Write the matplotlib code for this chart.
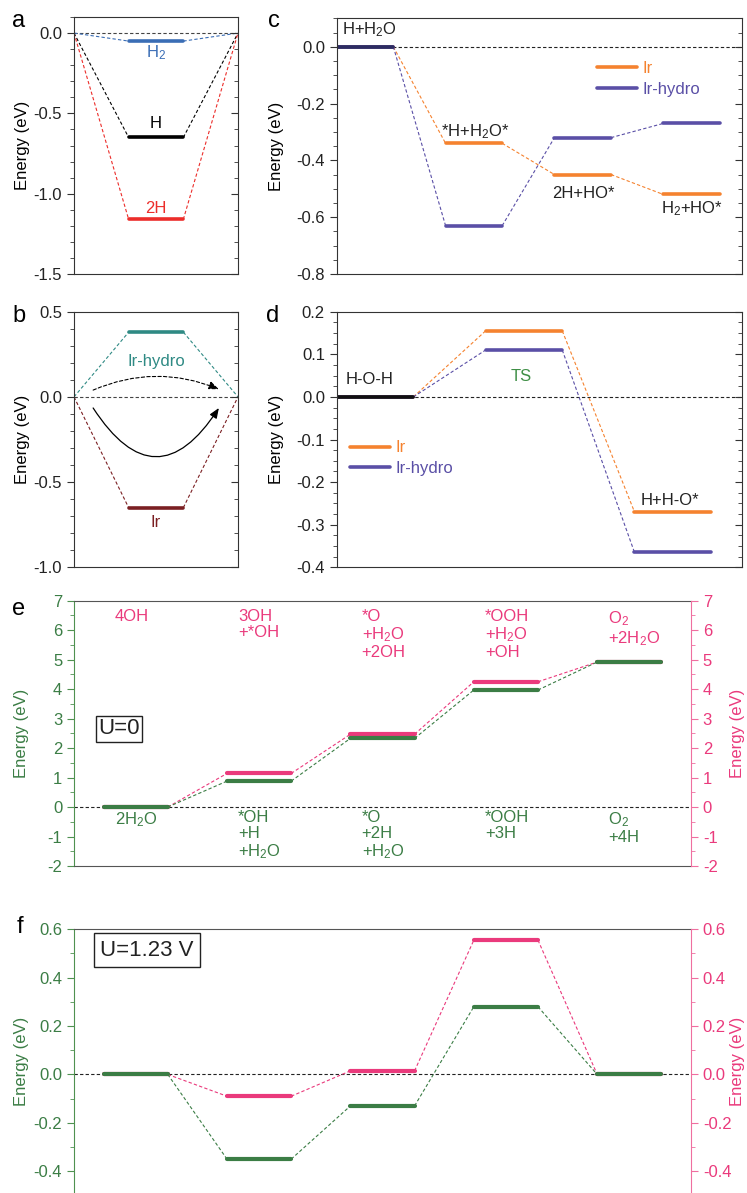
import matplotlib
matplotlib.use("Agg")
import matplotlib.pyplot as plt
from matplotlib.ticker import MultipleLocator

plt.rcParams['font.family'] = ['Liberation Sans', 'DejaVu Sans']
plt.rcParams['mathtext.fontset'] = 'custom'
plt.rcParams['mathtext.rm'] = 'Liberation Sans'
plt.rcParams['mathtext.it'] = 'Liberation Sans:italic'
plt.rcParams['font.size'] = 12
plt.rcParams['axes.unicode_minus'] = False

# ---- data ----
# a: adsorption energies
a_labels = ['H$_2$', 'H', '2H']
a_energy = [-0.05, -0.65, -1.16]
# b: Ir-hydro vs Ir
b_labels = ['Ir-hydro', 'Ir']
b_energy = [0.38, -0.65]
# c: water dissociation path
c_states = ['H+H$_2$O', '*H+H$_2$O*', '2H+HO*', 'H$_2$+HO*']
c_ir = [0.0, -0.34, -0.45, -0.52]
c_hydro = [0.0, -0.63, -0.32, -0.27]
# d: transition state
d_states = ['H-O-H', 'TS', 'H+H-O*']
d_ir = [0.0, 0.155, -0.27]
d_hydro = [0.0, 0.11, -0.365]
# e/f: OER steps
e_top = ['4OH', '3OH\n+*OH', '*O\n+H$_2$O\n+2OH', '*OOH\n+H$_2$O\n+OH', 'O$_2$\n+2H$_2$O']
e_bottom = ['2H$_2$O', '*OH\n+H\n+H$_2$O', '*O\n+2H\n+H$_2$O', '*OOH\n+3H', 'O$_2$\n+4H']
e_green = [0.0, 0.88, 2.33, 3.97, 4.92]
e_pink = [0.0, 1.14, 2.47, 4.25, 4.92]
f_green = [0.0, -0.35, -0.13, 0.28, 0.0]
f_pink = [0.0, -0.09, 0.015, 0.555, 0.0]

# colours
BLUE = '#3a6db5'
RED = '#ec2d2a'
TEAL = '#2f8a84'
DARKRED = '#7b1f22'
ORANGE = '#f5822f'
PURPLE = '#5a4fa6'
NAVY = '#2c2c62'
TSGREEN = '#3f8f46'
GREEN = '#3b7d45'
GREEN_AX = '#4f9150'
PINK = '#ea3a7c'
PINK_AX = '#ef6fa0'
SPINE = '#333333'

W, H = 747, 1193
fig = plt.figure(figsize=(W / 100, H / 100), dpi=100)


def px_axes(l, t, r, b):
    return fig.add_axes([l / W, 1 - b / H, (r - l) / W, (b - t) / H])


def dash(ax, x, y, color, lw=0.8):
    ax.plot(x, y, color=color, lw=lw, ls=(0, (3, 2)))


def level(ax, x0, x1, y, color, lw=2.6):
    ax.plot([x0, x1], [y, y], color=color, lw=lw, solid_capstyle='round')


def path(ax, starts, width, values, color, lw=2.6):
    for x0, y in zip(starts, values):
        level(ax, x0, x0 + width, y, color, lw)
    for i in range(len(values) - 1):
        dash(ax, [starts[i] + width, starts[i + 1]], [values[i], values[i + 1]], color)


def frame(ax, major, minor):
    ax.set_xticks([])
    for s in ax.spines.values():
        s.set_color(SPINE)
    ax.yaxis.set_major_locator(MultipleLocator(major))
    ax.yaxis.set_minor_locator(MultipleLocator(minor))
    ax.tick_params(axis='y', which='both', direction='out', colors=SPINE, labelcolor='#222222')
    ax.tick_params(axis='y', which='major', length=5)
    ax.tick_params(axis='y', which='minor', length=3)
    tw = ax.twinx()
    tw.set_ylim(ax.get_ylim())
    tw.yaxis.set_major_locator(MultipleLocator(major))
    tw.yaxis.set_minor_locator(MultipleLocator(minor))
    tw.tick_params(axis='y', which='both', direction='in', labelright=False, colors=SPINE)
    tw.tick_params(axis='y', which='major', length=5)
    tw.tick_params(axis='y', which='minor', length=3)
    for s in tw.spines.values():
        s.set_visible(False)
    ax.set_ylabel('Energy (eV)')


def letter(x, y, s):
    fig.text(x / W, 1 - y / H, s, fontsize=17, ha='left', va='center')


# ---- panel a ----
ax = px_axes(74, 17, 238, 274)
ax.set_xlim(0, 3)
ax.set_ylim(-1.5, 0.1)
ax.axhline(0, color='#444444', lw=0.8, ls=(0, (3, 2)))
a_colors = [BLUE, 'black', RED]
a_offsets = [-0.075, 0.085, 0.065]
for lab, e, c, off in zip(a_labels, a_energy, a_colors, a_offsets):
    dash(ax, [0, 1], [0, e], c)
    dash(ax, [2, 3], [e, 0], c)
    level(ax, 1, 2, e, c)
    ax.text(1.5, e + off, lab, color=c, ha='center', va='center')
frame(ax, 0.5, 0.1)
ax.yaxis.set_label_coords(-0.27, 0.5)
letter(12, 21, 'a')

# ---- panel b ----
ax = px_axes(74, 311.7, 238, 567.3)
ax.set_xlim(0, 3)
ax.set_ylim(-1.0, 0.5)
ax.axhline(0, color='#444444', lw=0.8, ls=(0, (3, 2)))
b_colors = [TEAL, DARKRED]
b_offsets = [-0.17, -0.09]
for lab, e, c, off in zip(b_labels, b_energy, b_colors, b_offsets):
    dash(ax, [0, 1], [0, e], c)
    dash(ax, [2, 3], [e, 0], c)
    level(ax, 1, 2, e, c)
    ax.text(1.5, e + off, lab, color=c, ha='center', va='center')
ax.annotate('', xy=(2.65, 0.045), xytext=(0.35, 0.04),
            arrowprops=dict(arrowstyle='-|>,head_length=0.5,head_width=0.2', color='black',
                            lw=0.8, ls=(0, (3, 2)), shrinkA=0, shrinkB=0,
                            connectionstyle='arc3,rad=-0.21'))
ax.annotate('', xy=(2.65, -0.065), xytext=(0.35, -0.065),
            arrowprops=dict(arrowstyle='-|>,head_length=0.5,head_width=0.2', color='black',
                            lw=0.9, shrinkA=0, shrinkB=0,
                            connectionstyle='arc3,rad=0.77'))
frame(ax, 0.5, 0.1)
ax.yaxis.set_label_coords(-0.27, 0.5)
letter(12, 316, 'b')

# ---- panel c ----
ax = px_axes(336.7, 18.3, 741.7, 274)
ax.set_xlim(0, 3.72)
ax.set_ylim(-0.8, 0.1)
cw = 0.52
cx = [0, 1, 2, 3]
ax.axhline(0, color='#222222', lw=0.8, ls=(0, (3, 2)))
path(ax, cx, cw, c_ir, ORANGE)
path(ax, cx, cw, c_hydro, PURPLE)
level(ax, cx[0], cx[0] + cw, c_ir[0], NAVY)
ax.plot([], [], color=ORANGE, lw=2.6, solid_capstyle='round', label='Ir')
ax.plot([], [], color=PURPLE, lw=2.6, solid_capstyle='round', label='Ir-hydro')
c_offsets = [0.06, 0.04, -0.065, -0.05]
c_shift = [0.0, 0.01, 0.01, 0.0]
for i, (lab, e) in enumerate(zip(c_states, c_ir)):
    if i == 0:
        ax.text(0.05, e + c_offsets[i], lab, ha='left', va='center', color='#222222')
    else:
        ax.text(cx[i] + cw / 2 + c_shift[i], e + c_offsets[i], lab, ha='center', va='center',
                color='#222222')
ax.legend(loc='center left', bbox_to_anchor=(0.643, 0.762), frameon=False, borderpad=0,
          borderaxespad=0, handlelength=2.4, handletextpad=0.3, labelspacing=0.35,
          labelcolor='linecolor')
frame(ax, 0.2, 0.05)
ax.yaxis.set_label_coords(-0.13, 0.5)
letter(268, 21, 'c')

# ---- panel d ----
ax = px_axes(336.7, 311.7, 741.7, 567.3)
ax.set_xlim(0, 2.72)
ax.set_ylim(-0.4, 0.2)
dw = 0.515
dx = [0, 1, 2]
ax.axhline(0, color='#222222', lw=0.8, ls=(0, (3, 2)))
path(ax, dx, dw, d_ir, ORANGE)
path(ax, dx, dw, d_hydro, PURPLE)
level(ax, dx[0], dx[0] + dw, d_ir[0], '#111111')
ax.plot([], [], color=ORANGE, lw=2.6, solid_capstyle='round', label='Ir')
ax.plot([], [], color=PURPLE, lw=2.6, solid_capstyle='round', label='Ir-hydro')
ax.text(0.22, d_ir[0] + 0.04, d_states[0], ha='center', va='center', color='#222222')
ax.text(1.24, d_hydro[1] - 0.062, d_states[1], ha='center', va='center', color=TSGREEN)
ax.text(2.24, d_ir[2] + 0.027, d_states[2], ha='center', va='center', color='#222222')
ax.legend(loc='center left', bbox_to_anchor=(0.033, 0.426), frameon=False, borderpad=0,
          borderaxespad=0, handlelength=2.4, handletextpad=0.3, labelspacing=0.35,
          labelcolor='linecolor')
frame(ax, 0.1, 0.025)
ax.yaxis.set_label_coords(-0.13, 0.5)
letter(266, 316, 'd')


# ---- panels e and f ----
def oer_axes(ax, ylim, major, minor, green, pink, fmt):
    ax.set_xlim(0, 5)
    ax.set_ylim(*ylim)
    ex = [i + 0.24 for i in range(len(green))]
    ew = 0.52
    ax.axhline(0, color='#222222', lw=0.8, ls=(0, (3, 2)))
    path(ax, ex, ew, pink, PINK, lw=3)
    path(ax, ex, ew, green, GREEN, lw=3)
    ax.set_xticks([])
    ax.yaxis.set_major_locator(MultipleLocator(major))
    ax.yaxis.set_minor_locator(MultipleLocator(minor))
    ax.yaxis.set_major_formatter(fmt)
    ax.tick_params(axis='y', which='both', direction='out', colors=GREEN_AX, labelcolor=GREEN)
    ax.tick_params(axis='y', which='major', length=5)
    ax.tick_params(axis='y', which='minor', length=3)
    ax.spines['left'].set_color(GREEN_AX)
    ax.spines['right'].set_visible(False)
    ax.spines['top'].set_color('#555555')
    ax.spines['bottom'].set_color('#555555')
    ax.set_ylabel('Energy (eV)', color=GREEN)
    tw = ax.twinx()
    tw.set_ylim(*ylim)
    tw.yaxis.set_major_locator(MultipleLocator(major))
    tw.yaxis.set_minor_locator(MultipleLocator(minor))
    tw.yaxis.set_major_formatter(fmt)
    tw.tick_params(axis='y', which='both', direction='out', colors=PINK_AX, labelcolor=PINK)
    tw.tick_params(axis='y', which='major', length=5)
    tw.tick_params(axis='y', which='minor', length=3)
    for side in ['left', 'top', 'bottom']:
        tw.spines[side].set_visible(False)
    tw.spines['right'].set_color(PINK_AX)
    tw.set_ylabel('Energy (eV)', color=PINK)
    ax.yaxis.set_label_coords(-0.073, 0.5)
    tw.yaxis.set_label_coords(1.063, 0.5)
    return ex, tw


ax = px_axes(74, 600.7, 691, 866)
ex, tw = oer_axes(ax, (-2, 7), 1, 0.5, e_green, e_pink, '{x:.0f}')
for x0, top, bot in zip(ex, e_top, e_bottom):
    ax.text(x0 + 0.09, 6.72, top, ha='left', va='top', color=PINK, linespacing=1.1)
    ax.text(x0 + 0.09, -0.1, bot, ha='left', va='top', color=GREEN, linespacing=1.1)
ax.text(0.365, 2.65, 'U=0', fontsize=16, ha='center', va='center', color='#222222',
        bbox=dict(boxstyle='square,pad=0.12', fc='white', ec='#222222', lw=1))
letter(12, 609, 'e')

ax = px_axes(74, 929.3, 691, 1193)
ex, tw = oer_axes(ax, (-0.49, 0.6), 0.2, 0.1, f_green, f_pink, '{x:.1f}')
ax.spines['bottom'].set_visible(False)
ax.text(0.59, 0.514, 'U=1.23 V', fontsize=16, ha='center', va='center', color='#222222',
        bbox=dict(boxstyle='square,pad=0.28', fc='white', ec='#222222', lw=1))
letter(17, 927, 'f')

fig.savefig('out.png', dpi=100)
